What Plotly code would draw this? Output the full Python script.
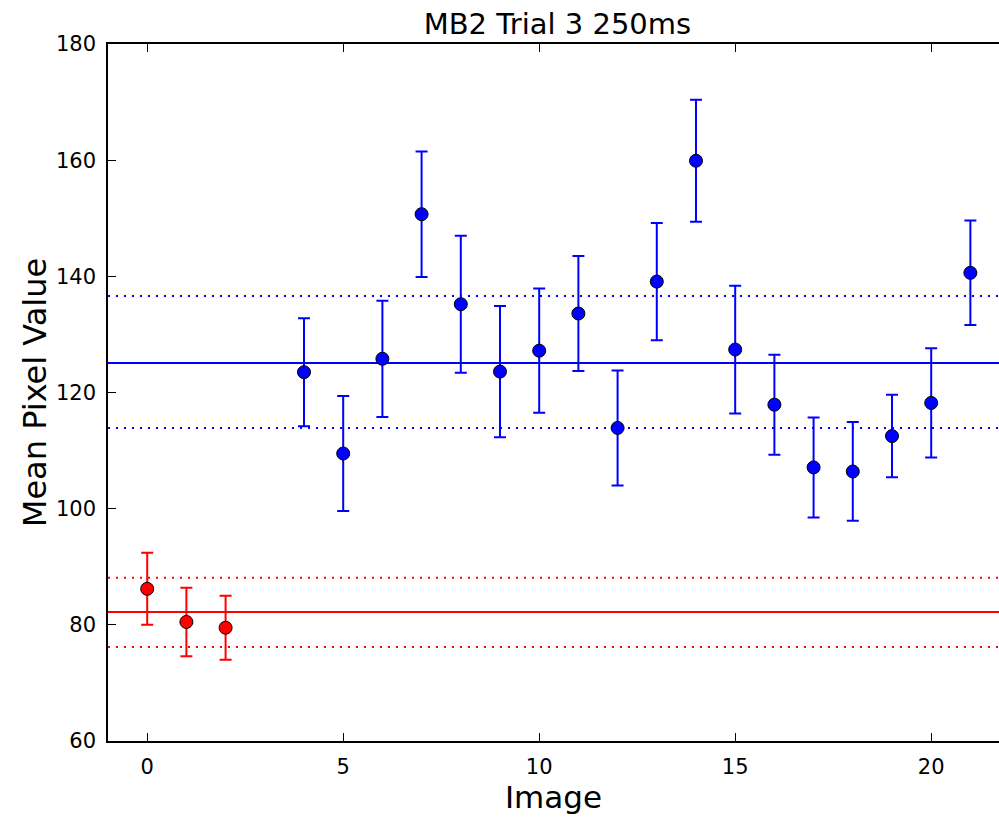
import plotly.graph_objects as go

# Data
red_x = [0, 1, 2]
red_y = [86.2, 80.5, 79.5]
red_err = [6.2, 5.9, 5.5]

blue_x = [4, 5, 6, 7, 8, 9, 10, 11, 12, 13, 14, 15, 16, 17, 18, 19, 20, 21]
blue_y = [123.5, 109.5, 125.8, 150.7, 135.2, 123.6, 127.2, 133.6, 113.9, 139.1,
          159.9, 127.4, 117.9, 107.1, 106.4, 112.5, 118.2, 140.6]
blue_err = [9.3, 9.9, 10.0, 10.8, 11.8, 11.3, 10.7, 9.9, 9.9, 10.1,
            10.5, 11.0, 8.6, 8.6, 8.5, 7.1, 9.4, 9.0]

red_mean, red_hi, red_lo = 82.2, 88.1, 76.2
blue_mean, blue_hi, blue_lo = 125.1, 136.6, 113.9

FONT = "DejaVu Sans"

fig = go.Figure()

def add_series(xs, ys, errs, color):
    fig.add_trace(go.Scatter(
        x=xs, y=ys, mode="markers",
        marker=dict(color=color, size=13, line=dict(color="black", width=1)),
        error_y=dict(type="data", array=errs, visible=True, color=color,
                     thickness=2, width=6),
        showlegend=False,
    ))

add_series(red_x, red_y, red_err, "#ff0000")
add_series(blue_x, blue_y, blue_err, "#0000ff")

for val, color, dash in [
    (red_mean, "#ff0000", "solid"), (red_hi, "#ff0000", "2px,6px"), (red_lo, "#ff0000", "2px,6px"),
    (blue_mean, "#0000ff", "solid"), (blue_hi, "#0000ff", "2px,6px"), (blue_lo, "#0000ff", "2px,6px"),
]:
    fig.add_shape(type="line", xref="paper", x0=0, x1=1, yref="y", y0=val, y1=val,
                  line=dict(color=color, width=2, dash=dash), layer="below")

axis_common = dict(
    showgrid=False, zeroline=False, showline=True, linecolor="black", linewidth=1.5,
    ticks="inside", ticklen=8, tickcolor="black", automargin=False,
    tickfont=dict(family=FONT, size=21, color="black"),
)

fig.update_layout(
    width=999, height=817,
    margin=dict(l=108, r=0, t=44, b=76, autoexpand=False),
    plot_bgcolor="white", paper_bgcolor="white",
    title=dict(text="MB2 Trial 3 250ms", x=0.558, xanchor="center",
               y=0.9706, yanchor="middle",
               font=dict(family=FONT, size=29, color="black")),
    xaxis=dict(range=[-1, 21.73], tickvals=[0, 5, 10, 15, 20], mirror="ticks",
               ticklabelstandoff=6,
               title=dict(text="Image", font=dict(family=FONT, size=31, color="black"),
                          standoff=8),
               **axis_common),
    yaxis=dict(range=[60, 180], tickvals=[60, 80, 100, 120, 140, 160, 180],
               ticklabelstandoff=6,
               title=dict(text="Mean Pixel Value", font=dict(family=FONT, size=32, color="black"),
                          standoff=0),
               **axis_common),
)

fig.write_html("out.html",
               config={"displayModeBar": False},
               post_script="document.body.style.margin='0';document.body.style.overflow='hidden';")
